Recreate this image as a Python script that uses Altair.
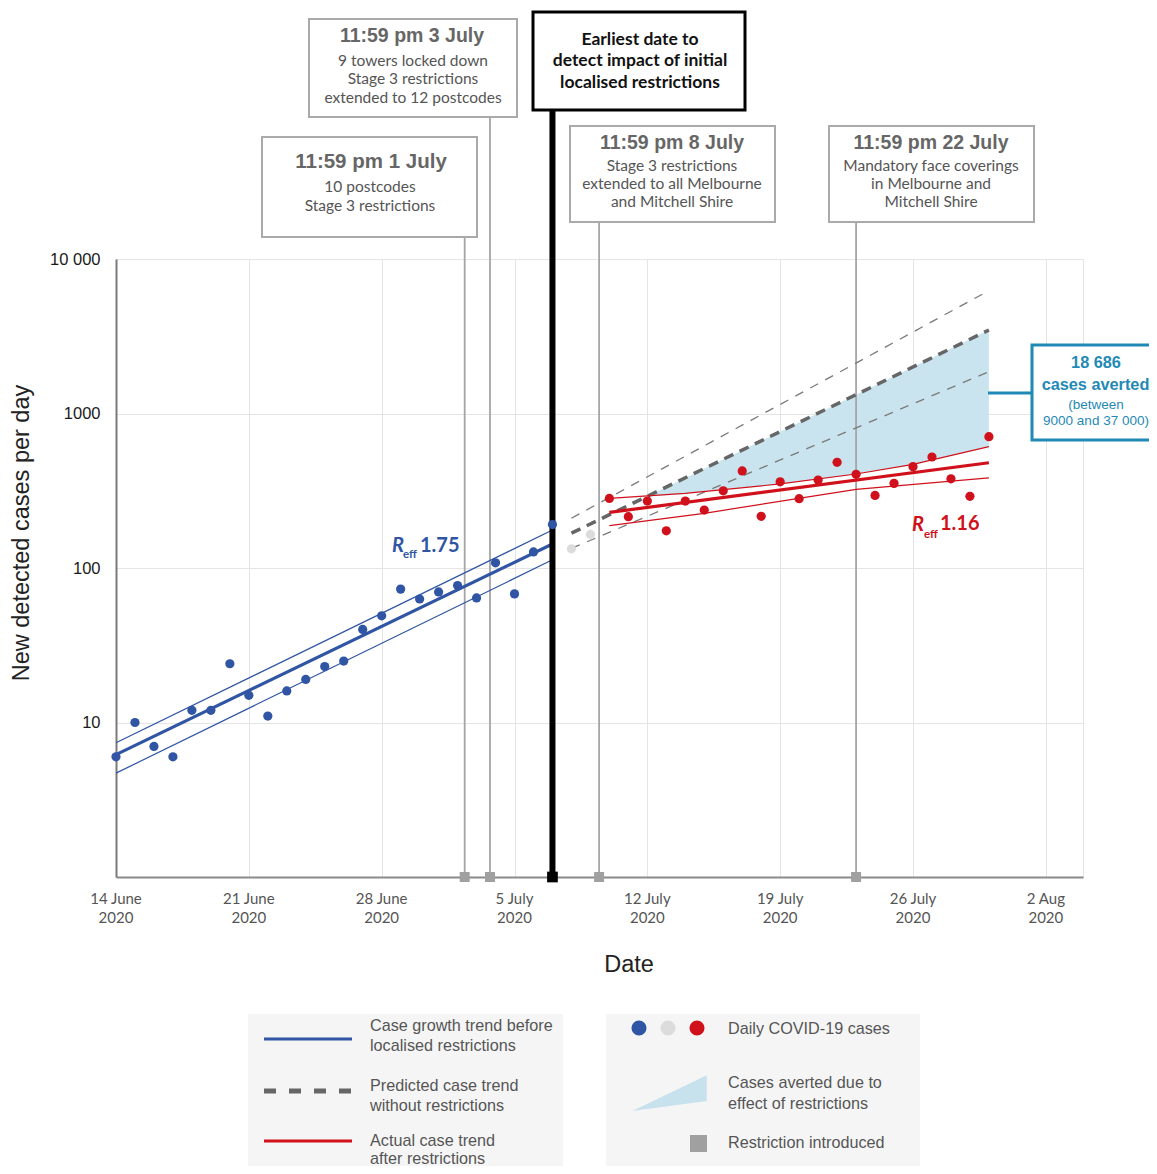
import altair as alt
import pandas as pd

# ---------------- data ----------------
blue_start = "2020-06-14"
blue_cases = [6, 10, 7, 6, 12, 12, 24, 15, 11, 16, 19, 23, 25, 40, 49, 73, 63, 70,
              77, 64, 108, 68, 127, 191]
grey_dates = ["2020-07-08", "2020-07-09"]
grey_cases = [133, 165]
red_start = "2020-07-10"
red_cases = [282, 215, 271, 174, 271, 237, 316, 425, 216, 361, 281, 371, 483, 404,
             295, 353, 453, 523, 378, 291, 708]

blue_trend_dates = ["2020-06-14", "2020-07-07"]
blue_trend = [6.2, 143]
blue_upper = [7.4, 176]
blue_lower = [4.7, 113]

red_trend_dates = ["2020-07-10", "2020-07-30"]
red_trend = [229, 480]
red_upper_dates = ["2020-07-10", "2020-07-14", "2020-07-19", "2020-07-23", "2020-07-26", "2020-07-30"]
red_upper = [282, 304, 350, 406, 469, 610]
red_lower_dates = ["2020-07-10", "2020-07-15", "2020-07-23", "2020-07-30"]
red_lower = [188, 226, 323, 383]

pred_dates = ["2020-07-08", "2020-07-30"]
pred_mid = [168, 3470]
pred_high = [210, 6240]
pred_low = [134, 1866]

averted_dates = ["2020-07-12", "2020-07-14", "2020-07-19", "2020-07-23", "2020-07-26", "2020-07-30"]
averted_top = [291, 383, 763, 1323, 2000, 3470]
averted_bottom = [290, 304, 350, 406, 469, 610]

restriction_dates = ["2020-07-02T09:00", "2020-07-03T17:00", "2020-07-09T11:00", "2020-07-23T00:00"]
detect_date = "2020-07-07"

tick_dates = ["2020-06-14", "2020-06-21", "2020-06-28", "2020-07-05",
              "2020-07-12", "2020-07-19", "2020-07-26", "2020-08-02"]
tick_labels = ["14 June", "21 June", "28 June", "5 July", "12 July", "19 July", "26 July", "2 Aug"]
tick_year = "2020"

y_ticks = [10, 100, 1000, 10000]

# ---------------- colours / layout ----------------
BLUE = "#2f55a4"
RED = "#d0111b"
GREYPT = "#dcdcdc"
TEAL = "#1f8ab5"
GRID = "#e4e4e4"
W, H = 967, 618
LX, TY = 116, 259  # page position of the plot origin


def px(x):
    return x - LX


def py(y):
    return y - TY


def dt(s):
    d = pd.Timestamp(s)
    return alt.DateTime(year=d.year, month=d.month, date=d.day, hours=d.hour, minutes=d.minute)


X = alt.X("date:T",
          scale=alt.Scale(domain=[dt("2020-06-14"), dt("2020-08-03T23:00")], nice=False),
          axis=alt.Axis(values=[dt(s) for s in tick_dates], grid=True, labels=False,
                        ticks=False, title=None, domainColor="#8a8a8a", domainWidth=2,
                        gridColor=GRID, gridWidth=1))
Y = alt.Y("v:Q",
          scale=alt.Scale(type="log", domain=[1, 10000], nice=False),
          axis=alt.Axis(values=y_ticks, ticks=False, title=None, labelPadding=16,
                        labelFontSize=16.5, labelColor="#1a1a1a", labelFont="Liberation Sans",
                        labelExpr="datum.value >= 10000 ? '10 000' : format(datum.value, 'd')",
                        domainColor="#7a7a7a", domainWidth=2, gridColor=GRID, gridWidth=1))

one = pd.DataFrame({"a": [0]})


def line(dates, vals, color, width, dash=None):
    df = pd.DataFrame({"date": pd.to_datetime(dates), "v": vals})
    kw = dict(color=color, strokeWidth=width)
    if dash:
        kw["strokeDash"] = dash
    return alt.Chart(df).mark_line(**kw).encode(x=X, y=Y)


def T(s, x, y, size, color="#555555", font="Lato", weight="normal", align="center",
      style="normal", angle=0):
    kw = dict(text=s, fontSize=size, color=color, font=font, fontWeight=weight,
              align=align, baseline="middle", fontStyle=style)
    if angle:
        kw["angle"] = angle
    return alt.Chart(one).mark_text(**kw).encode(x=alt.value(px(x)), y=alt.value(py(y)))


def R(x1, y1, x2, y2, fill="white", stroke=None, sw=0):
    kw = dict(fill=fill)
    if stroke:
        kw["stroke"] = stroke
        kw["strokeWidth"] = sw
    return alt.Chart(one).mark_rect(**kw).encode(
        x=alt.value(px(x1)), x2=alt.value(px(x2)), y=alt.value(py(y1)), y2=alt.value(py(y2)))


def HR(x1, x2, y, color, width, dash=None):
    kw = dict(color=color, strokeWidth=width)
    if dash:
        kw["strokeDash"] = dash
    return alt.Chart(one).mark_rule(**kw).encode(
        x=alt.value(px(x1)), x2=alt.value(px(x2)), y=alt.value(py(y)))


layers = []

# shaded averted area
adf = pd.DataFrame({"date": pd.to_datetime(averted_dates), "v": averted_top, "v2": averted_bottom})
layers.append(alt.Chart(adf).mark_area(color="#c9e4ee", opacity=1).encode(x=X, y=Y, y2="v2"))

# restriction lines (reaching up to their boxes)
rule_tops = [237, 117, 222, 222]
for d, top in zip(restriction_dates, rule_tops):
    rdf = pd.DataFrame({"date": pd.to_datetime([d])})
    layers.append(alt.Chart(rdf).mark_rule(color="#a5a5a5", strokeWidth=1.8).encode(
        x=X, y=alt.value(py(top)), y2=alt.value(H)))

# predicted (dashed) lines
layers.append(line(pred_dates, pred_high, "#7a7a7a", 1.3, [9, 8]))
layers.append(line(pred_dates, pred_low, "#7a7a7a", 1.3, [9, 8]))
layers.append(line(pred_dates, pred_mid, "#666666", 3.5, [10, 7]))

# trends
layers.append(line(blue_trend_dates, blue_upper, BLUE, 1.2))
layers.append(line(blue_trend_dates, blue_lower, BLUE, 1.2))
layers.append(line(blue_trend_dates, blue_trend, BLUE, 3.2))
layers.append(line(red_upper_dates, red_upper, RED, 1.2))
layers.append(line(red_lower_dates, red_lower, RED, 1.2))
layers.append(line(red_trend_dates, red_trend, RED, 3.2))

# earliest detection line
ddf = pd.DataFrame({"date": pd.to_datetime([detect_date])})
layers.append(alt.Chart(ddf).mark_rule(color="#000000", strokeWidth=6).encode(
    x=X, y=alt.value(py(110)), y2=alt.value(H)))

# points
pts = pd.concat([
    pd.DataFrame({"date": pd.date_range(blue_start, periods=len(blue_cases), freq="D"),
                  "v": blue_cases, "grp": "blue"}),
    pd.DataFrame({"date": pd.to_datetime(grey_dates), "v": grey_cases, "grp": "grey"}),
    pd.DataFrame({"date": pd.date_range(red_start, periods=len(red_cases), freq="D"),
                  "v": red_cases, "grp": "red"}),
])
layers.append(alt.Chart(pts).mark_circle(size=85, opacity=1).encode(
    x=X, y=Y,
    color=alt.Color("grp:N", scale=alt.Scale(domain=["blue", "grey", "red"],
                                             range=[BLUE, GREYPT, RED]), legend=None)))

# restriction squares on the axis
sdf = pd.DataFrame({"date": pd.to_datetime(restriction_dates)})
layers.append(alt.Chart(sdf).mark_square(size=100, color="#a0a0a0", opacity=1).encode(
    x=X, y=alt.value(H)))
layers.append(alt.Chart(ddf).mark_square(size=115, color="#000000", opacity=1).encode(
    x=X, y=alt.value(H)))

# x tick labels
tdf = pd.DataFrame({"date": pd.to_datetime(tick_dates),
                    "lab": [l + "\n" + tick_year for l in tick_labels]})
layers.append(alt.Chart(tdf).mark_text(fontSize=15, font="Lato", color="#555555",
                                       lineBreak="\n", lineHeight=19, baseline="middle").encode(
    x=X, y=alt.value(py(899)), text="lab:N"))

# axis titles
layers.append(T("Date", 629, 965, 23.5, "#222222", "Liberation Sans"))
layers.append(T("New detected cases per day", 22, 533, 23.5, "#222222", "Liberation Sans", angle=270))

# R_eff labels
layers.append(T("R", 398, 546, 20, BLUE, weight="bold", style="italic"))
layers.append(T("eff", 403, 555, 11.5, BLUE, weight="bold", align="left"))
layers.append(T("1.75", 420, 546, 20, BLUE, weight="bold", align="left"))
layers.append(T("R", 918, 525, 20, RED, weight="bold", style="italic"))
layers.append(T("eff", 924, 535, 11.5, RED, weight="bold", align="left"))
layers.append(T("1.16", 940, 524, 20, RED, weight="bold", align="left"))

# annotation boxes
GB = "#aaaaaa"
layers.append(R(309, 19, 517, 117, stroke=GB, sw=2))
layers.append(T("11:59 pm 3 July", 412, 36, 19.5, "#666666", "Liberation Sans", "bold"))
for t, y in zip(["9 towers locked down", "Stage 3 restrictions", "extended to 12 postcodes"], [61, 79, 98]):
    layers.append(T(t, 413, y, 15.5))

layers.append(R(262, 137, 477, 237, stroke=GB, sw=2))
layers.append(T("11:59 pm 1 July", 371, 162, 20.5, "#666666", "Liberation Sans", "bold"))
for t, y in zip(["10 postcodes", "Stage 3 restrictions"], [187, 206]):
    layers.append(T(t, 370, y, 15.5))

layers.append(R(533, 12, 745, 110, stroke="#000000", sw=3))
for t, y in zip(["Earliest date to", "detect impact of initial", "localised restrictions"], [40, 61, 83]):
    layers.append(T(t, 640, y, 17.5, "#111111", weight="bold"))

layers.append(R(570, 126, 775, 222, stroke=GB, sw=2))
layers.append(T("11:59 pm 8 July", 672, 143, 19.5, "#666666", "Liberation Sans", "bold"))
for t, y in zip(["Stage 3 restrictions", "extended to all Melbourne", "and Mitchell Shire"], [166, 184, 202]):
    layers.append(T(t, 672, y, 15.5))

layers.append(R(829, 126, 1034, 222, stroke=GB, sw=2))
layers.append(T("11:59 pm 22 July", 931, 143, 19.5, "#666666", "Liberation Sans", "bold"))
for t, y in zip(["Mandatory face coverings", "in Melbourne and", "Mitchell Shire"], [166, 184, 202]):
    layers.append(T(t, 931, y, 15.5))

# averted box
layers.append(HR(988, 1032, 393, TEAL, 3))
layers.append(R(1032, 345, 1165, 440, stroke=TEAL, sw=3))
layers.append(T("18 686", 1096, 363, 16.3, TEAL, "Liberation Sans", "bold"))
layers.append(T("cases averted", 1095.5, 385, 16.3, TEAL, "Liberation Sans", "bold"))
layers.append(T("(between", 1096, 405, 13.5, TEAL, "Liberation Sans"))
layers.append(T("9000 and 37 000)", 1096, 421, 13.5, TEAL, "Liberation Sans"))

# ---------------- legend ----------------
LG = "#f5f5f5"
LT = "#555555"
layers.append(R(248, 1014, 563, 1190, fill=LG))
layers.append(R(606, 1014, 920, 1190, fill=LG))
layers.append(HR(264, 352, 1039, BLUE, 3))
layers.append(HR(264, 352, 1091, "#666666", 5, [12, 13]))
layers.append(HR(264, 352, 1141, RED, 3))
for t, y in zip(["Case growth trend before", "localised restrictions", "Predicted case trend",
                 "without restrictions", "Actual case trend", "after restrictions"],
                [1026, 1046, 1086, 1106, 1141, 1159]):
    layers.append(T(t, 370, y, 16.2, LT, "Liberation Sans", align="left"))
for x, c in zip([639, 668, 697], [BLUE, GREYPT, RED]):
    layers.append(alt.Chart(one).mark_circle(size=227, color=c, opacity=1).encode(
        x=alt.value(px(x)), y=alt.value(py(1028))))
layers.append(alt.Chart(one).mark_point(shape="M -1 0.47 L 1 -0.49 L 1 0.2 Z", filled=True,
                                        size=5550, color="#c7e2ec", opacity=1, strokeWidth=0).encode(
    x=alt.value(px(669.5)), y=alt.value(py(1093.5))))
layers.append(alt.Chart(one).mark_square(size=289, color="#a0a0a0", opacity=1).encode(
    x=alt.value(px(698.5)), y=alt.value(py(1143.5))))
for t, y in zip(["Daily COVID-19 cases", "Cases averted due to", "effect of restrictions",
                 "Restriction introduced"], [1029, 1083, 1104, 1143]):
    layers.append(T(t, 728, y, 16.2, LT, "Liberation Sans", align="left"))

chart = alt.layer(*layers).properties(
    width=W, height=H,
    autosize=alt.AutoSizeParams(type="none"),
    padding={"left": 108, "top": 251, "right": 66, "bottom": 289},
    background="white",
).configure_view(stroke=GRID)

chart.save("out.html", embed_options={"renderer": "svg", "actions": False})
